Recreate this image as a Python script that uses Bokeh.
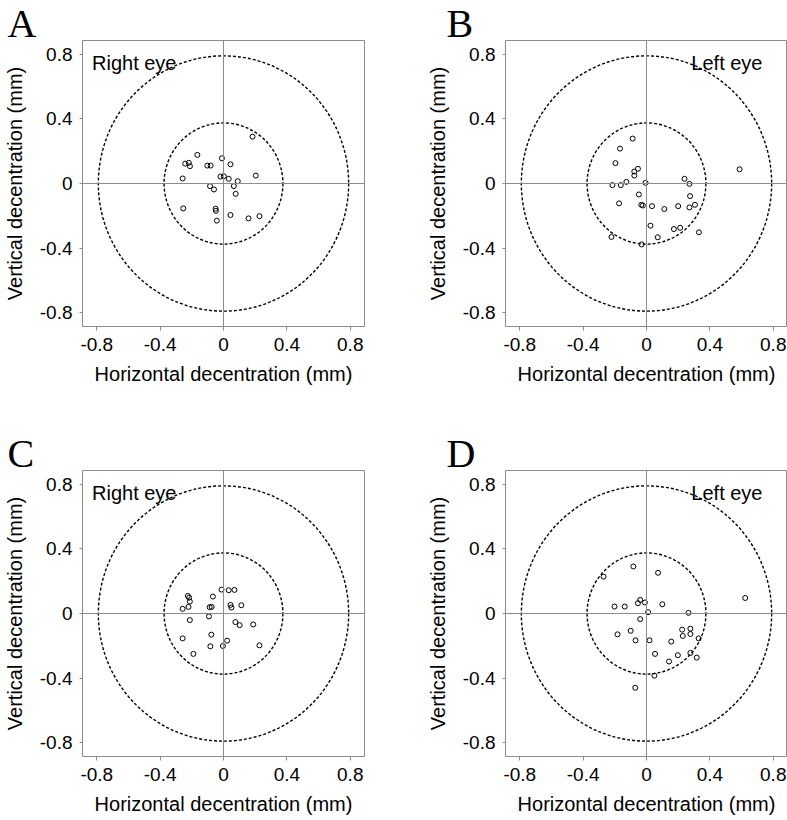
from bokeh.plotting import figure
from bokeh.layouts import column, row
from bokeh.models import Span, Label, FixedTicker
from bokeh.embed import file_html
from bokeh.resources import INLINE

# ---------------- data ----------------
TICKS = [-0.8, -0.4, 0, 0.4, 0.8]
TICK_LABELS = ["-0.8", "-0.4", "0", "0.4", "0.8"]
X_LABEL = "Horizontal decentration (mm)"
Y_LABEL = "Vertical decentration (mm)"
INNER_R = 0.375
OUTER_R = 0.79

A_x = [0.183, -0.165, -0.242, -0.219, -0.212, -0.102, -0.081, -0.010, 0.044, 0.204,
       -0.258, -0.019, 0.002, 0.033, 0.090, 0.065, -0.085, -0.060, 0.077, -0.254,
       -0.050, -0.048, -0.042, 0.044, 0.158, 0.227]
A_y = [0.290, 0.177, 0.123, 0.128, 0.107, 0.111, 0.111, 0.156, 0.119, 0.049,
       0.031, 0.043, 0.045, 0.029, 0.014, -0.016, -0.016, -0.037, -0.064, -0.154,
       -0.156, -0.169, -0.230, -0.195, -0.216, -0.202]

B_x = [-0.0875, -0.167, -0.196, -0.054, -0.077, -0.077, -0.127, -0.215, -0.1625, -0.006,
       0.5875, 0.240, 0.271, -0.048, -0.173, -0.033, -0.023, 0.035, 0.1125, 0.200,
       0.275, 0.271, 0.306, 0.025, 0.173, 0.2125, 0.071, 0.331, -0.221, -0.031]
B_y = [0.278, 0.216, 0.126, 0.091, 0.074, 0.049, 0.010, -0.010, -0.010, 0.004,
       0.088, 0.029, -0.002, -0.068, -0.123, -0.132, -0.136, -0.140, -0.158, -0.140,
       -0.078, -0.148, -0.132, -0.261, -0.282, -0.274, -0.333, -0.302, -0.331, -0.377]

C_x = [-0.0125, 0.033, 0.069, -0.225, -0.217, -0.2125, -0.067, -0.221, -0.258, -0.0875,
       -0.075, 0.044, 0.050, 0.1125, -0.2125, -0.092, 0.075, 0.102, 0.1875, -0.258,
       -0.077, 0.023, -0.083, -0.004, 0.227, -0.19]
C_y = [0.148, 0.144, 0.146, 0.109, 0.098, 0.074, 0.105, 0.041, 0.029, 0.039,
       0.041, 0.053, 0.037, 0.051, -0.041, -0.018, -0.053, -0.072, -0.068, -0.154,
       -0.131, -0.168, -0.203, -0.201, -0.197, -0.25]

D_x = [-0.083, -0.271, 0.073, -0.040, -0.054, -0.010, -0.202, -0.1375, 0.100, 0.010,
       0.265, 0.623, -0.040, -0.100, -0.183, -0.069, 0.019, 0.225, 0.277, 0.229,
       0.277, 0.329, 0.156, 0.054, 0.198, 0.277, 0.317, 0.142, -0.071, 0.05]
D_y = [0.291, 0.228, 0.252, 0.084, 0.064, 0.068, 0.043, 0.043, 0.057, 0.008,
       0.004, 0.096, -0.035, -0.107, -0.129, -0.166, -0.166, -0.100, -0.094, -0.139,
       -0.127, -0.154, -0.174, -0.250, -0.258, -0.244, -0.273, -0.297, -0.460, -0.385]

PANELS = [
    ("A", "Right eye", A_x, A_y),
    ("B", "Left eye", B_x, B_y),
    ("C", "Right eye", C_x, C_y),
    ("D", "Left eye", D_x, D_y),
]

SANS = "Liberation Sans"
SERIF = "Liberation Serif"
GRAY = "#8c8c8c"


def make_panel(letter, eye, xs, ys, left_col, top_row):
    if left_col:
        width, mb_right, letter_off = 423, 59, -75
    else:
        width, mb_right, letter_off = 364, 0, -59
    if top_row:
        height, mb_bottom = 430, 104
    else:
        height, mb_bottom = 389, 63
    p = figure(width=width, height=height, x_range=(-0.89, 0.89), y_range=(-0.885, 0.885),
               output_backend="svg", toolbar_location=None,
               min_border_left=79, min_border_right=mb_right,
               min_border_top=40, min_border_bottom=mb_bottom)
    p.grid.visible = False
    p.background_fill_color = "white"
    p.border_fill_color = "white"
    p.outline_line_color = GRAY
    p.outline_line_width = 1

    # panel letter as the figure title
    p.title.text = letter
    p.title.text_font = SERIF
    p.title.text_font_size = "40px"
    p.title.text_font_style = "normal"
    p.title.text_color = "black"
    p.title.align = "left"
    p.title.vertical_align = "top"
    p.title.offset = letter_off
    p.title.standoff = -14

    for ax in (p.xaxis[0], p.yaxis[0]):
        ax.ticker = FixedTicker(ticks=TICKS)
        ax.major_label_overrides = dict(zip(TICKS, TICK_LABELS))
        ax.axis_line_color = None
        ax.major_tick_line_color = GRAY
        ax.major_tick_in = 0
        ax.minor_tick_line_color = None
        ax.major_label_text_font = SANS
        ax.major_label_text_font_size = "19px"
        ax.major_label_text_color = "black"
        ax.axis_label_text_font = SANS
        ax.axis_label_text_font_size = "20px"
        ax.axis_label_text_font_style = "normal"
        ax.axis_label_text_color = "black"
    p.xaxis.axis_label = X_LABEL
    p.yaxis.axis_label = Y_LABEL
    p.xaxis.major_tick_out = 4
    p.yaxis.major_tick_out = 3
    p.xaxis.major_label_standoff = 7
    p.yaxis.major_label_standoff = 7
    p.xaxis.axis_label_standoff = 9
    p.yaxis.axis_label_standoff = 11
    p.yaxis.major_label_orientation = "horizontal"

    p.add_layout(Span(location=0, dimension="height", line_color=GRAY, line_width=1))
    p.add_layout(Span(location=0, dimension="width", line_color=GRAY, line_width=1))

    for r in (INNER_R, OUTER_R):
        p.ellipse(x=0, y=0, width=2 * r, height=2 * r, fill_color=None,
                  line_color="black", line_width=1.4, line_dash="3 2")

    p.scatter(xs, ys, marker="circle", size=5, fill_color=None,
              line_color="black", line_width=1)

    ex = -0.83 if eye.startswith("Right") else 0.283
    p.add_layout(Label(x=ex, y=0.745, text=eye, text_font=SANS,
                       text_font_size="20px", text_color="black",
                       text_baseline="alphabetic", text_align="left"))
    return p


pA = make_panel(*PANELS[0], left_col=True, top_row=True)
pB = make_panel(*PANELS[1], left_col=False, top_row=True)
pC = make_panel(*PANELS[2], left_col=True, top_row=False)
pD = make_panel(*PANELS[3], left_col=False, top_row=False)

layout = column(row(pA, pB), row(pC, pD))

open("out.html", "w").write(file_html(layout, INLINE))
